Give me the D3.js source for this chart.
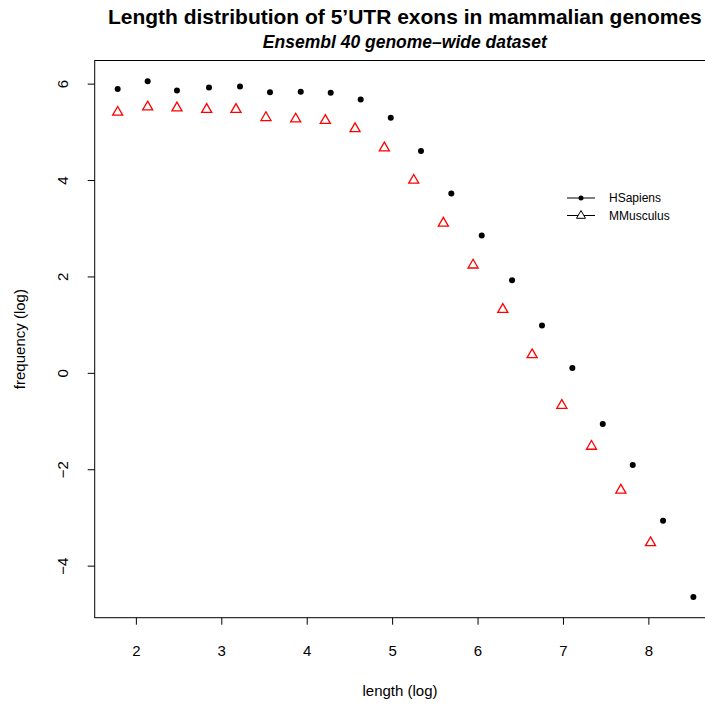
<!DOCTYPE html>
<html>
<head>
<meta charset="utf-8">
<script src="https://cdn.jsdelivr.net/npm/d3@7"></script>
<style>
  html, body { margin: 0; padding: 0; background: #fff; }
  svg { display: block; font-family: "Liberation Sans", Arial, sans-serif; }
</style>
</head>
<body>
<div id="chart"></div>
<script>
// ── Data (log length vs log frequency) ─────────────────────────────────────
const HS_X = [1.787, 2.138, 2.481, 2.856, 3.219, 3.570, 3.930, 4.281, 4.632, 4.984,
              5.338, 5.693, 6.049, 6.404, 6.755, 7.110, 7.466, 7.817, 8.172, 8.527];
const HS_Y = [5.89, 6.05, 5.86, 5.92, 5.94, 5.82, 5.83, 5.81, 5.67, 5.29,
              4.60, 3.72, 2.85, 1.92, 0.98, 0.10, -1.06, -1.91, -3.07, -4.65];
const MM_X = [1.787, 2.138, 2.481, 2.829, 3.172, 3.523, 3.871, 4.218, 4.566, 4.909,
              5.253, 5.600, 5.948, 6.296, 6.639, 6.987, 7.334, 7.678, 8.025];
const MM_Y = [5.41, 5.52, 5.50, 5.47, 5.47, 5.30, 5.27, 5.24, 5.07, 4.67,
              4.00, 3.11, 2.24, 1.32, 0.38, -0.67, -1.52, -2.43, -3.52];
const X_TICKS = [2, 3, 4, 5, 6, 7, 8];
const Y_TICKS = [-4, -2, 0, 2, 4, 6];
const SERIES = ['HSapiens', 'MMusculus'];

const width = 705, height = 710;
const plot = { left: 94.7, right: 715, top: 60.5, bottom: 617.7 };

const svg = d3.select('#chart').append('svg')
  .attr('width', width).attr('height', height);

const xScale = d3.scaleLinear().domain([1.518, 8.78]).range([plot.left, plot.right]);
const yScale = d3.scaleLinear().domain([-5.08, 6.48]).range([plot.bottom, plot.top]);

// Box (right side runs off the canvas like the original)
svg.append('rect')
  .attr('x', plot.left).attr('y', plot.top)
  .attr('width', plot.right - plot.left).attr('height', plot.bottom - plot.top)
  .attr('fill', 'none').attr('stroke', '#000').attr('stroke-width', 1);

// Axes
svg.append('g')
  .attr('transform', `translate(0,${plot.bottom})`)
  .call(d3.axisBottom(xScale).tickValues(X_TICKS).tickSize(7).tickPadding(21).tickFormat(d3.format('d')))
  .call(ax => ax.select('.domain').remove())
  .call(ax => ax.selectAll('text').attr('font-size', 15).attr('fill', '#000')
    .attr('font-family', '"Liberation Sans", Arial, sans-serif'));

const yAxis = svg.append('g')
  .attr('transform', `translate(${plot.left},0)`)
  .call(d3.axisLeft(yScale).tickValues(Y_TICKS).tickSize(7).tickFormat(d => d < 0 ? '\u2212' + Math.abs(d) : d))
  .call(ax => ax.select('.domain').remove());
yAxis.selectAll('.tick text')
  .attr('x', null).attr('dy', null)
  .attr('transform', 'translate(-32,0) rotate(-90)')
  .attr('text-anchor', 'middle')
  .attr('dominant-baseline', 'central')
  .attr('font-size', 15).attr('fill', '#000')
  .attr('font-family', '"Liberation Sans", Arial, sans-serif');

// Titles
const cx = (plot.left + plot.right) / 2;
svg.append('text')
  .attr('x', cx).attr('y', 24)
  .attr('text-anchor', 'middle')
  .attr('font-size', 21).attr('font-weight', 'bold')
  .text('Length distribution of 5\u2019UTR exons in mammalian genomes');
svg.append('text')
  .attr('x', cx).attr('y', 48)
  .attr('text-anchor', 'middle')
  .attr('font-size', 17.5).attr('font-weight', 'bold').attr('font-style', 'italic')
  .text('Ensembl 40 genome\u2013wide dataset');

svg.append('text')
  .attr('x', 400).attr('y', 696)
  .attr('text-anchor', 'middle')
  .attr('font-size', 15)
  .text('length (log)');
svg.append('text')
  .attr('transform', `translate(25,${(plot.top + plot.bottom) / 2}) rotate(-90)`)
  .attr('text-anchor', 'middle')
  .attr('font-size', 15)
  .text('frequency (log)');

// Triangle path centred on (0,0)
const tri = s => `M0,${-s * 0.62}L${s * 0.56},${s * 0.35}L${-s * 0.56},${s * 0.35}Z`;

// HSapiens points
svg.append('g').selectAll('circle')
  .data(HS_X.map((x, i) => [x, HS_Y[i]]))
  .enter().append('circle')
  .attr('cx', d => xScale(d[0]))
  .attr('cy', d => yScale(d[1]))
  .attr('r', 3)
  .attr('fill', '#000');

// MMusculus points
svg.append('g').selectAll('path')
  .data(MM_X.map((x, i) => [x, MM_Y[i]]))
  .enter().append('path')
  .attr('transform', d => `translate(${xScale(d[0])},${yScale(d[1])})`)
  .attr('d', tri(9))
  .attr('fill', 'none')
  .attr('stroke', '#ff0000')
  .attr('stroke-width', 1.3);

// Legend (no box)
const legend = svg.append('g').attr('transform', 'translate(567,198)');
SERIES.forEach((name, i) => {
  const ly = i * 17.5;
  legend.append('line')
    .attr('x1', 0).attr('x2', 28).attr('y1', ly).attr('y2', ly)
    .attr('stroke', '#000').attr('stroke-width', 1);
  if (i === 0) {
    legend.append('circle').attr('cx', 14).attr('cy', ly).attr('r', 2.5).attr('fill', '#000');
  } else {
    legend.append('path').attr('transform', `translate(14,${ly})`)
      .attr('d', tri(8)).attr('fill', '#fff').attr('stroke', '#000').attr('stroke-width', 1);
  }
  legend.append('text')
    .attr('x', 42).attr('y', ly)
    .attr('dominant-baseline', 'central')
    .attr('font-size', 12)
    .text(name);
});
</script>
</body>
</html>
